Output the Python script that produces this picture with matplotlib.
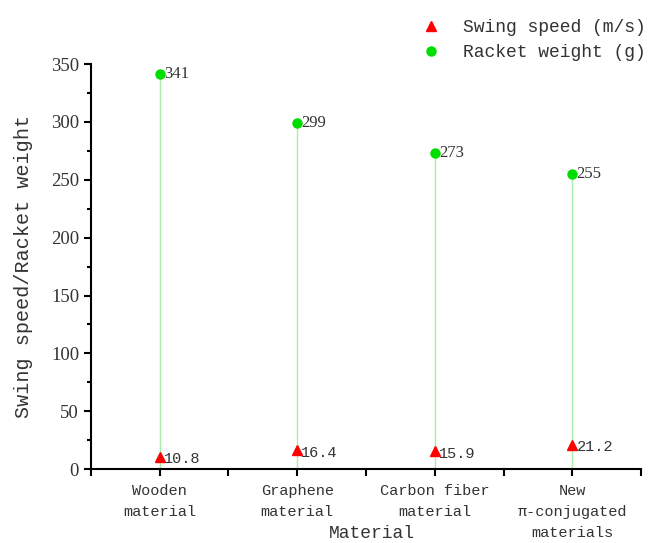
import matplotlib
matplotlib.use("Agg")
import matplotlib.pyplot as plt
from matplotlib.ticker import MultipleLocator, FixedLocator

# datos
materiales = ["Wooden\nmaterial", "Graphene\nmaterial", "Carbon fiber\nmaterial",
              "New\nπ-conjugated\nmaterials"]
velocidad = [10.8, 16.4, 15.9, 21.2]
peso = [341, 299, 273, 255]

mono = ["Liberation Mono", "DejaVu Sans Mono"]
serif = ["Liberation Serif", "DejaVu Serif"]

fig = plt.figure(figsize=(6.49, 5.43), dpi=100)
ax = fig.add_axes([0.140, 0.136, 0.848, 0.746])

x = list(range(1, len(materiales) + 1))

# tallos verdes
for xi, p in zip(x, peso):
    ax.plot([xi, xi], [0, p], color="#a8eea8", lw=1, zorder=1)

ax.plot(x, velocidad, linestyle="none", marker="^", color="#ff0000",
        markersize=7, label="Swing speed (m/s)", zorder=3)
ax.plot(x, peso, linestyle="none", marker="o", color="#00dd00",
        markersize=6.5, label="Racket weight (g)", zorder=3)

for xi, v in zip(x, velocidad):
    ax.annotate(f"{v}", (xi, v), xytext=(3, -2), textcoords="offset points",
                ha="left", va="center", fontsize=11, family=mono, color="#333333")
for xi, p in zip(x, peso):
    ax.annotate(f"{p}", (xi, p), xytext=(3, 0), textcoords="offset points",
                ha="left", va="center", fontsize=12, family=serif, color="#333333")

ax.set_xlim(0.5, 4.5)
ax.set_ylim(0, 350)
ax.set_xticks(x)
ax.set_xticklabels(materiales, family=mono, fontsize=11, color="#333333",
                   linespacing=1.6)
ax.xaxis.set_minor_locator(FixedLocator([0.5, 1.5, 2.5, 3.5, 4.5]))
ax.yaxis.set_major_locator(MultipleLocator(50))
ax.yaxis.set_minor_locator(MultipleLocator(25))
for lab in ax.get_yticklabels():
    lab.set_family(serif)
    lab.set_fontsize(13.5)
    lab.set_color("#333333")

ax.tick_params(axis="both", which="major", direction="out", length=5, width=1.5)
ax.tick_params(axis="x", which="major", pad=6)
ax.tick_params(axis="x", which="minor", direction="out", length=5, width=1.5)
ax.tick_params(axis="y", which="minor", direction="out", length=3, width=1.5)

for s in ["top", "right"]:
    ax.spines[s].set_visible(False)
for s in ["left", "bottom"]:
    ax.spines[s].set_linewidth(1.5)

ax.set_ylabel("Swing speed/Racket weight", family=mono, fontsize=14.5, color="#333333")
ax.yaxis.set_label_coords(-0.105, 0.5)
ax.set_xlabel("Material", family=mono, fontsize=13, color="#333333")
ax.xaxis.set_label_coords(0.51, -0.158)
ax.xaxis.label.set_va("center")

fig.legend(loc="upper left", bbox_to_anchor=(0.611, 0.995), frameon=False,
           prop={"family": mono, "size": 13}, handletextpad=0.8,
           labelspacing=0.45, labelcolor="#333333")

fig.savefig("out.png", dpi=100)
